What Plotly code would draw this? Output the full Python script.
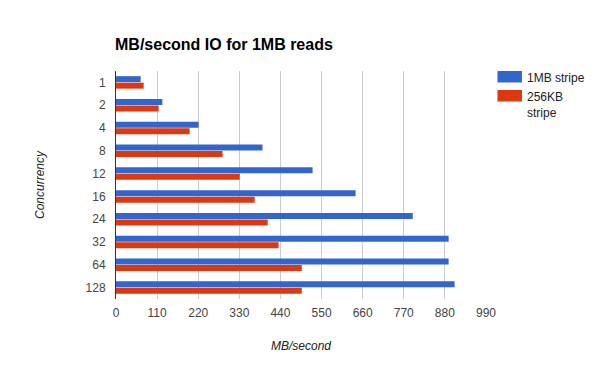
import plotly.graph_objects as go

categories = ["1", "2", "4", "8", "12", "16", "24", "32", "64", "128"]
stripe_1mb = [66, 124, 221, 392, 526, 641, 794, 890, 890, 906]
stripe_256kb = [74, 114, 197, 285, 331, 371, 406, 435, 497, 497]
tick_vals = [0, 110, 220, 330, 440, 550, 660, 770, 880, 990]
series_names = ["1MB stripe", "256KB<br>stripe"]
series_colors = ["#3366cc", "#dc3912"]

FONT = "Liberation Sans, Arial, sans-serif"
W, H = 600, 371
L, R, T, B = 115.5, 114, 71, 72
PW, PH = W - L - R, H - T - B


def px(x):
    return (x - L) / PW


def py(y):
    return (H - B - y) / PH


fig = go.Figure()
for name, vals, col in zip(series_names, [stripe_1mb, stripe_256kb], series_colors):
    fig.add_trace(go.Bar(y=categories, x=vals, orientation="h", name=name,
                         marker=dict(color=col, line=dict(width=0))))

# custom legend
shapes = []
annotations = []
legend_tops = [71, 90]
for i, (name, col) in enumerate(zip(series_names, series_colors)):
    top = legend_tops[i]
    shapes.append(dict(type="rect", xref="paper", yref="paper",
                       x0=px(497.5), x1=px(522), y0=py(top + 11.5), y1=py(top),
                       fillcolor=col, line=dict(width=0)))
    annotations.append(dict(xref="paper", yref="paper", x=px(525), y=py(top - 2),
                            xanchor="left", yanchor="top", text=name, showarrow=False,
                            align="left", font=dict(size=12, color="#222")))

fig.update_layout(
    width=W, height=H,
    margin=dict(l=L, r=R, t=T, b=B, autoexpand=False),
    paper_bgcolor="white", plot_bgcolor="white",
    barmode="group", bargap=0.43, bargroupgap=0.08,
    font=dict(family=FONT, size=12, color="#222"),
    title=dict(text="<b>MB/second IO for 1MB reads</b>", x=115 / W, xanchor="left",
               y=1 - 44.5 / H, yanchor="middle", font=dict(size=16, color="#000")),
    showlegend=False,
    shapes=shapes,
    annotations=annotations,
)
fig.update_xaxes(range=[0, 990], tickvals=tick_vals, ticktext=[str(v) for v in tick_vals],
                 showgrid=True, gridcolor="#cccccc", gridwidth=1, zeroline=False,
                 showline=False, ticks="", tickfont=dict(size=12, color="#444"),
                 ticklabelstandoff=5,
                 title=dict(text="<i>MB/second</i>", font=dict(size=12, color="#222"), standoff=22))
fig.update_yaxes(autorange="reversed", showgrid=False, zeroline=False, showline=True,
                 linecolor="#333", linewidth=1, ticks="", tickfont=dict(size=12, color="#444"),
                 ticklabelstandoff=7,
                 title=dict(text="<i>Concurrency</i>", font=dict(size=12, color="#222"), standoff=38))

fig.write_html("out.html")
